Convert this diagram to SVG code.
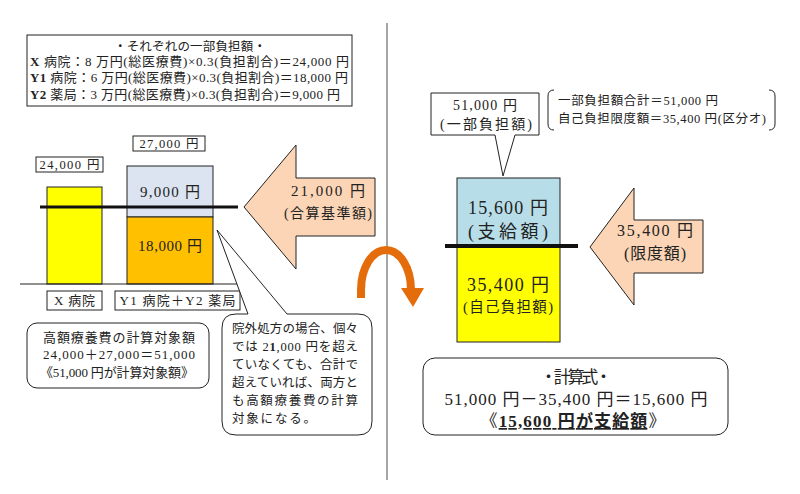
<svg xmlns="http://www.w3.org/2000/svg" width="800" height="494" viewBox="0 0 800 494">
<style>
text{font-family:'Liberation Serif','Noto Sans CJK JP',serif;fill:#222}
.box{fill:#fff;stroke:#222;stroke-width:1}
.bar{stroke:#222;stroke-width:1}
.c{text-anchor:middle}
.peach{fill:#fbd5b5;stroke:#222;stroke-width:1}
</style>
<rect width="800" height="494" fill="#fff"/>
<g id="divider"><line x1="387" y1="23" x2="387" y2="480" stroke="#a6a6a6" stroke-width="2"/></g>

<g id="burden-box">
<rect class="box" x="27" y="35" width="325" height="71"/>
<text class="c" x="190" y="51" font-size="12.5" textLength="152">・それぞれの一部負担額・</text>
<text x="30" y="66" font-size="13" textLength="319"><tspan font-weight="bold">X</tspan> 病院：8 万円(総医療費)×0.3(負担割合)＝24,000 円</text>
<text x="30" y="82" font-size="13" textLength="318"><tspan font-weight="bold">Y1</tspan> 病院：6 万円(総医療費)×0.3(負担割合)＝18,000 円</text>
<text x="30" y="99" font-size="13" textLength="310"><tspan font-weight="bold">Y2</tspan> 薬局：3 万円(総医療費)×0.3(負担割合)＝9,000 円</text>
</g>

<g id="bar-x">
<rect class="box" x="36" y="157" width="67" height="15"/>
<text class="c" x="69.5" y="169" font-size="12.5" textLength="60">24,000 円</text>
<rect class="bar" x="47" y="187" width="55" height="97" fill="#ffff00"/>
</g>
<g id="bar-y">
<rect class="box" x="133" y="136" width="72" height="15"/>
<text class="c" x="169" y="148" font-size="12.5" textLength="59">27,000 円</text>
<rect class="bar" x="127" y="166" width="86" height="51" fill="#dbe4f0"/>
<rect class="bar" x="127" y="217" width="86" height="67" fill="#ffc000"/>
<text class="c" x="170" y="197" font-size="15" textLength="60">9,000 円</text>
<text class="c" x="170" y="251" font-size="15" textLength="64">18,000 円</text>
</g>
<g id="lines-left">
<line x1="40" y1="207" x2="238" y2="207" stroke="#111" stroke-width="3"/>
<line x1="20" y1="284" x2="243" y2="284" stroke="#222" stroke-width="1.2"/>
</g>
<g id="label-x">
<rect class="box" x="47" y="291" width="55" height="19"/>
<text class="c" x="74.5" y="305" font-size="13" textLength="41">X 病院</text>
</g>
<g id="label-y">
<rect class="box" x="115" y="291" width="125" height="19"/>
<text class="c" x="177.5" y="305" font-size="13" textLength="116">Y1 病院＋Y2 薬局</text>
</g>

<g id="arrow-left">
<polygon class="peach" points="244,207 296,145 296,178 375,178 375,236 296,236 296,269"/>
<text class="c" x="328" y="196" font-size="15" textLength="74">21,000 円</text>
<text class="c" x="328" y="218" font-size="14" textLength="88">(合算基準額)</text>
</g>

<g id="calc-box">
<rect class="box" x="27" y="323" width="182" height="65" rx="10"/>
<text class="c" x="119" y="342" font-size="13" textLength="152">高額療養費の計算対象額</text>
<text class="c" x="119" y="359" font-size="13" textLength="152">24,000＋27,000＝51,000</text>
<text class="c" x="117" y="377" font-size="13" textLength="154">《51,000 円が計算対象額》</text>
</g>

<g id="note-bubble">
<path d="M 236 314 L 248 314 L 217 230 L 287 314 L 358 314 Q 372 314 372 328 L 372 421 Q 372 435 358 435 L 236 435 Q 222 435 222 421 L 222 328 Q 222 314 236 314 Z" fill="#fff" stroke="#222" stroke-width="1"/>
<text x="232" y="333" font-size="12.5" textLength="126">院外処方の場合、個々</text>
<text x="232" y="351" font-size="12.5" textLength="126">では 2<tspan font-weight="bold">1</tspan>,000 円を超え</text>
<text x="232" y="369" font-size="12.5" textLength="126">ていなくても、合計で</text>
<text x="232" y="387" font-size="12.5" textLength="126">超えていれば、両方と</text>
<text x="232" y="405" font-size="12.5" textLength="126">も高額療養費の計算</text>
<text x="232" y="423" font-size="12.5" textLength="84">対象になる。</text>
</g>

<g id="curved-arrow">
<path d="M 361 298 L 361 290 A 25 40 0 0 1 411 290" fill="none" stroke="#e46c0a" stroke-width="8"/>
<polygon points="401,288 424,288 413,307" fill="#e46c0a"/>
</g>

<g id="bubble-51000">
<path d="M 431 93 L 539 93 L 539 135 L 515 135 L 503 176 L 495 135 L 431 135 Z" fill="#fff" stroke="#222" stroke-width="1"/>
<text class="c" x="485" y="110" font-size="14" textLength="64">51,000 円</text>
<text class="c" x="486" y="129" font-size="14" textLength="92">(一部負担額)</text>
</g>
<g id="bracket-note">
<path d="M 554 90 Q 548 90 548 96 L 548 124 Q 548 130 554 130" fill="none" stroke="#222" stroke-width="1"/>
<path d="M 769 90 Q 775 90 775 96 L 775 124 Q 775 130 769 130" fill="none" stroke="#222" stroke-width="1"/>
<text x="558" y="105" font-size="12.5" textLength="160">一部負担額合計＝51,000 円</text>
<text x="558" y="123" font-size="12.5" textLength="208">自己負担限度額＝35,400 円(区分オ)</text>
</g>

<g id="bar-right">
<rect class="bar" x="457" y="178" width="103" height="68" fill="#b7dde8"/>
<rect class="bar" x="457" y="246" width="103" height="96" fill="#ffff00"/>
<line x1="445" y1="246" x2="578" y2="246" stroke="#111" stroke-width="4"/>
<text class="c" x="508" y="214" font-size="18" textLength="80">15,600 円</text>
<text class="c" x="508" y="238" font-size="18" textLength="80">(支給額)</text>
<text class="c" x="508" y="291" font-size="18" textLength="82">35,400 円</text>
<text class="c" x="508" y="312" font-size="14.5" textLength="90">(自己負担額)</text>
</g>

<g id="arrow-right">
<polygon class="peach" points="590,247 634,188 634,220 703,220 703,273 634,273 634,305"/>
<text class="c" x="655" y="236" font-size="16" textLength="76">35,400 円</text>
<text class="c" x="655" y="259" font-size="16" textLength="62">(限度額)</text>
</g>

<g id="formula-box">
<rect class="box" x="423" y="358" width="305" height="77" rx="12"/>
<text class="c" x="576" y="383" font-size="17" textLength="72">・計算式・</text>
<text class="c" x="576" y="405" font-size="17" textLength="263">51,000 円－35,400 円＝15,600 円</text>
<text class="c" x="573" y="427" font-size="17" textLength="185">《<tspan font-weight="bold" text-decoration="underline">15,600 円が支給額</tspan>》</text>
</g>
</svg>
